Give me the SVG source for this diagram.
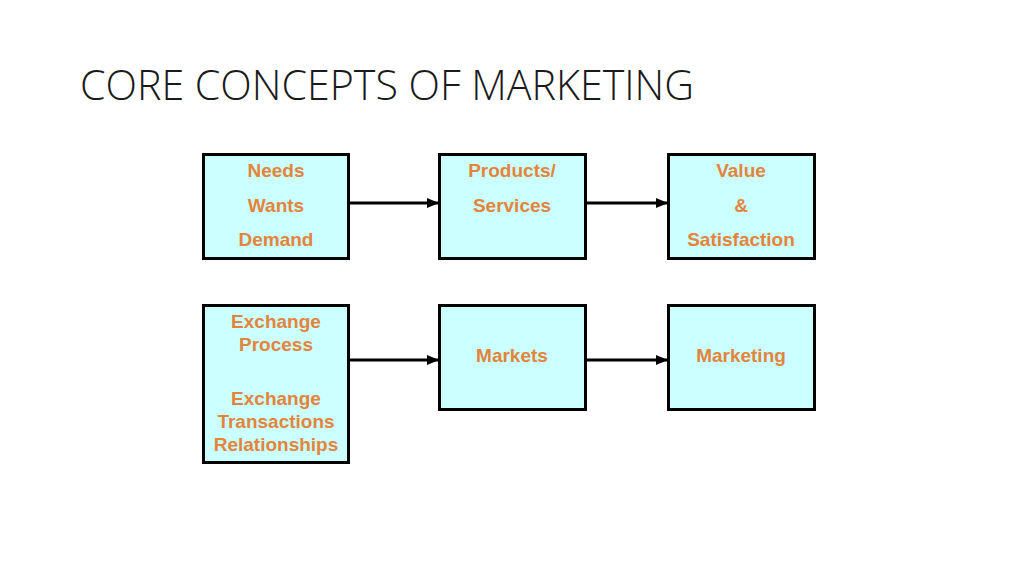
<svg xmlns="http://www.w3.org/2000/svg" width="1024" height="576" viewBox="0 0 1024 576">
<defs>
<marker id="ah" markerWidth="12" markerHeight="10" refX="11" refY="5" orient="auto" markerUnits="userSpaceOnUse">
<path d="M0,0 L12,5 L0,10 Z" fill="#000"/>
</marker>
<style>
.box{fill:#CCFFFF;stroke:#000;stroke-width:3}
.lbl{font-family:"Liberation Sans",Arial,sans-serif;font-weight:bold;font-size:19px;fill:#E3843C;text-anchor:middle}
.conn{stroke:#000;stroke-width:3;fill:none}
.title{font-family:"Open Sans","Liberation Sans",sans-serif;font-weight:300;font-size:43px;fill:#1a1a1a}
</style>
</defs>
<rect width="1024" height="576" fill="#fff"/>
<text class="title" x="80" y="100" textLength="614" lengthAdjust="spacingAndGlyphs">CORE CONCEPTS OF MARKETING</text>
<g id="connectors">
<line class="conn" x1="350" y1="203" x2="438" y2="203" marker-end="url(#ah)"/>
<line class="conn" x1="586" y1="203" x2="667" y2="203" marker-end="url(#ah)"/>
<line class="conn" x1="350" y1="360" x2="438" y2="360" marker-end="url(#ah)"/>
<line class="conn" x1="586" y1="360" x2="667" y2="360" marker-end="url(#ah)"/>
</g>
<g id="needs">
<rect class="box" x="203.5" y="154.5" width="145" height="104"/>
<text class="lbl" x="276" y="177">Needs</text>
<text class="lbl" x="276" y="212">Wants</text>
<text class="lbl" x="276" y="246">Demand</text>
</g>
<g id="products">
<rect class="box" x="439.5" y="154.5" width="146" height="104"/>
<text class="lbl" x="512" y="177">Products/</text>
<text class="lbl" x="512" y="212">Services</text>
</g>
<g id="value">
<rect class="box" x="668.5" y="154.5" width="146" height="104"/>
<text class="lbl" x="741" y="177">Value</text>
<text class="lbl" x="741" y="212">&amp;</text>
<text class="lbl" x="741" y="246">Satisfaction</text>
</g>
<g id="exchange">
<rect class="box" x="203.5" y="305.5" width="145" height="157"/>
<text class="lbl" x="276" y="328">Exchange</text>
<text class="lbl" x="276" y="351">Process</text>
<text class="lbl" x="276" y="405">Exchange</text>
<text class="lbl" x="276" y="428">Transactions</text>
<text class="lbl" x="276" y="451">Relationships</text>
</g>
<g id="markets">
<rect class="box" x="439.5" y="305.5" width="146" height="104"/>
<text class="lbl" x="512" y="362">Markets</text>
</g>
<g id="marketing">
<rect class="box" x="668.5" y="305.5" width="146" height="104"/>
<text class="lbl" x="741" y="362">Marketing</text>
</g>
</svg>
